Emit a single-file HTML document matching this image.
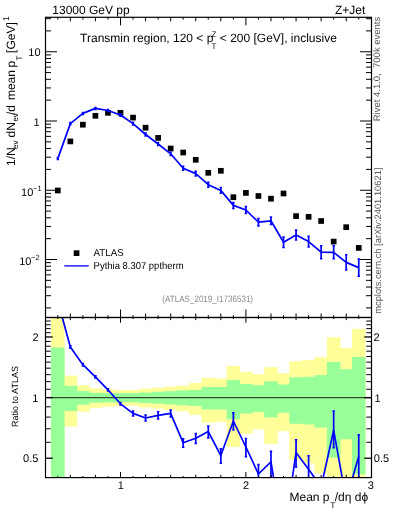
<!DOCTYPE html><html><head><meta charset="utf-8"><style>
html,body{margin:0;padding:0;background:#fff;width:393px;height:512px;overflow:hidden;}
svg{display:block;font-family:"Liberation Sans",sans-serif;will-change:transform;text-rendering:geometricPrecision;}
</style></head><body>
<svg width="393" height="512" viewBox="0 0 393 512">
<defs><clipPath id="cr"><rect x="45.5" y="317.5" width="326.0" height="160.10000000000002"/></clipPath>
<clipPath id="cm"><rect x="45.5" y="17.3" width="326.0" height="300.2"/></clipPath></defs>
<g clip-path="url(#cr)"><rect x="51.03" y="250.00" width="13.54" height="750.00" fill="#ffff99"/><rect x="63.57" y="375.70" width="13.54" height="50.79" fill="#ffff99"/><rect x="76.11" y="385.30" width="13.54" height="26.44" fill="#ffff99"/><rect x="88.65" y="388.30" width="13.54" height="19.59" fill="#ffff99"/><rect x="101.19" y="389.30" width="13.54" height="17.36" fill="#ffff99"/><rect x="113.73" y="390.10" width="13.54" height="15.61" fill="#ffff99"/><rect x="126.27" y="390.10" width="13.54" height="15.61" fill="#ffff99"/><rect x="138.81" y="388.70" width="13.54" height="18.69" fill="#ffff99"/><rect x="151.35" y="387.70" width="13.54" height="20.93" fill="#ffff99"/><rect x="163.89" y="386.70" width="13.54" height="23.21" fill="#ffff99"/><rect x="176.43" y="385.70" width="13.54" height="25.51" fill="#ffff99"/><rect x="188.97" y="383.00" width="13.54" height="31.92" fill="#ffff99"/><rect x="201.51" y="377.90" width="13.54" height="44.84" fill="#ffff99"/><rect x="214.05" y="378.50" width="13.54" height="43.25" fill="#ffff99"/><rect x="226.59" y="365.90" width="13.54" height="81.15" fill="#ffff99"/><rect x="239.13" y="371.80" width="13.54" height="62.04" fill="#ffff99"/><rect x="251.67" y="374.20" width="13.54" height="55.01" fill="#ffff99"/><rect x="264.21" y="367.20" width="13.54" height="76.69" fill="#ffff99"/><rect x="276.75" y="373.20" width="13.54" height="57.89" fill="#ffff99"/><rect x="289.29" y="361.30" width="13.54" height="98.44" fill="#ffff99"/><rect x="301.83" y="360.10" width="13.54" height="103.40" fill="#ffff99"/><rect x="314.37" y="357.20" width="13.54" height="116.37" fill="#ffff99"/><rect x="326.91" y="337.20" width="13.54" height="419.56" fill="#ffff99"/><rect x="339.45" y="348.00" width="13.54" height="172.43" fill="#ffff99"/><rect x="351.99" y="328.90" width="13.54" height="671.10" fill="#ffff99"/><rect x="51.03" y="347.50" width="13.54" height="176.56" fill="#99ff99"/><rect x="63.57" y="385.90" width="13.54" height="25.05" fill="#99ff99"/><rect x="76.11" y="391.00" width="13.54" height="13.66" fill="#99ff99"/><rect x="88.65" y="392.80" width="13.54" height="9.82" fill="#99ff99"/><rect x="101.19" y="393.00" width="13.54" height="9.40" fill="#99ff99"/><rect x="113.73" y="393.10" width="13.54" height="9.19" fill="#99ff99"/><rect x="126.27" y="393.10" width="13.54" height="9.19" fill="#99ff99"/><rect x="138.81" y="392.50" width="13.54" height="10.46" fill="#99ff99"/><rect x="151.35" y="391.80" width="13.54" height="11.94" fill="#99ff99"/><rect x="163.89" y="391.20" width="13.54" height="13.23" fill="#99ff99"/><rect x="176.43" y="390.40" width="13.54" height="14.96" fill="#99ff99"/><rect x="188.97" y="389.90" width="13.54" height="16.05" fill="#99ff99"/><rect x="201.51" y="387.00" width="13.54" height="22.52" fill="#99ff99"/><rect x="214.05" y="387.00" width="13.54" height="22.52" fill="#99ff99"/><rect x="226.59" y="380.10" width="13.54" height="39.12" fill="#99ff99"/><rect x="239.13" y="384.00" width="13.54" height="29.51" fill="#99ff99"/><rect x="251.67" y="385.20" width="13.54" height="26.68" fill="#99ff99"/><rect x="264.21" y="381.30" width="13.54" height="36.10" fill="#99ff99"/><rect x="276.75" y="384.50" width="13.54" height="28.33" fill="#99ff99"/><rect x="289.29" y="377.30" width="13.54" height="46.44" fill="#99ff99"/><rect x="301.83" y="376.90" width="13.54" height="47.51" fill="#99ff99"/><rect x="314.37" y="375.10" width="13.54" height="52.46" fill="#99ff99"/><rect x="326.91" y="362.00" width="13.54" height="95.64" fill="#99ff99"/><rect x="339.45" y="369.20" width="13.54" height="70.11" fill="#99ff99"/><rect x="351.99" y="357.00" width="13.54" height="117.32" fill="#99ff99"/></g>
<line x1="45.5" y1="397.6" x2="371.5" y2="397.6" stroke="#1a1a1a" stroke-opacity="0.8" stroke-width="1.4"/>
<g clip-path="url(#cr)"><polyline points="57.80,301.00 70.34,347.00 82.88,364.70 95.42,376.90 107.96,389.90 120.50,403.80 133.04,413.40 145.58,418.00 158.12,415.30 170.66,413.30 183.20,442.80 195.74,438.20 208.28,431.60 220.82,455.50 233.36,421.00 245.90,447.00 258.44,474.00 270.98,461.80 283.52,538.90 296.06,452.50 308.60,469.30 321.14,486.90 333.68,430.30 346.22,500.00 358.76,456.20" fill="none" stroke="#0000ff" stroke-width="1.7" stroke-linejoin="round"/><line x1="57.80" y1="299.80" x2="57.80" y2="302.20" stroke="#0000ff" stroke-width="1.7"/><line x1="56.60" y1="299.80" x2="59.00" y2="299.80" stroke="#0000ff" stroke-width="1.5"/><line x1="56.60" y1="302.20" x2="59.00" y2="302.20" stroke="#0000ff" stroke-width="1.5"/><line x1="70.34" y1="345.80" x2="70.34" y2="348.20" stroke="#0000ff" stroke-width="1.7"/><line x1="69.14" y1="345.80" x2="71.54" y2="345.80" stroke="#0000ff" stroke-width="1.5"/><line x1="69.14" y1="348.20" x2="71.54" y2="348.20" stroke="#0000ff" stroke-width="1.5"/><line x1="82.88" y1="363.50" x2="82.88" y2="365.90" stroke="#0000ff" stroke-width="1.7"/><line x1="81.68" y1="363.50" x2="84.08" y2="363.50" stroke="#0000ff" stroke-width="1.5"/><line x1="81.68" y1="365.90" x2="84.08" y2="365.90" stroke="#0000ff" stroke-width="1.5"/><line x1="95.42" y1="375.70" x2="95.42" y2="378.10" stroke="#0000ff" stroke-width="1.7"/><line x1="94.22" y1="375.70" x2="96.62" y2="375.70" stroke="#0000ff" stroke-width="1.5"/><line x1="94.22" y1="378.10" x2="96.62" y2="378.10" stroke="#0000ff" stroke-width="1.5"/><line x1="107.96" y1="388.70" x2="107.96" y2="391.10" stroke="#0000ff" stroke-width="1.7"/><line x1="106.76" y1="388.70" x2="109.16" y2="388.70" stroke="#0000ff" stroke-width="1.5"/><line x1="106.76" y1="391.10" x2="109.16" y2="391.10" stroke="#0000ff" stroke-width="1.5"/><line x1="120.50" y1="402.60" x2="120.50" y2="405.00" stroke="#0000ff" stroke-width="1.7"/><line x1="119.30" y1="402.60" x2="121.70" y2="402.60" stroke="#0000ff" stroke-width="1.5"/><line x1="119.30" y1="405.00" x2="121.70" y2="405.00" stroke="#0000ff" stroke-width="1.5"/><line x1="133.04" y1="410.90" x2="133.04" y2="416.00" stroke="#0000ff" stroke-width="1.7"/><line x1="131.84" y1="410.90" x2="134.24" y2="410.90" stroke="#0000ff" stroke-width="1.5"/><line x1="131.84" y1="416.00" x2="134.24" y2="416.00" stroke="#0000ff" stroke-width="1.5"/><line x1="145.58" y1="415.10" x2="145.58" y2="421.10" stroke="#0000ff" stroke-width="1.7"/><line x1="144.38" y1="415.10" x2="146.78" y2="415.10" stroke="#0000ff" stroke-width="1.5"/><line x1="144.38" y1="421.10" x2="146.78" y2="421.10" stroke="#0000ff" stroke-width="1.5"/><line x1="158.12" y1="411.80" x2="158.12" y2="419.00" stroke="#0000ff" stroke-width="1.7"/><line x1="156.92" y1="411.80" x2="159.32" y2="411.80" stroke="#0000ff" stroke-width="1.5"/><line x1="156.92" y1="419.00" x2="159.32" y2="419.00" stroke="#0000ff" stroke-width="1.5"/><line x1="170.66" y1="410.00" x2="170.66" y2="416.90" stroke="#0000ff" stroke-width="1.7"/><line x1="169.46" y1="410.00" x2="171.86" y2="410.00" stroke="#0000ff" stroke-width="1.5"/><line x1="169.46" y1="416.90" x2="171.86" y2="416.90" stroke="#0000ff" stroke-width="1.5"/><line x1="183.20" y1="438.70" x2="183.20" y2="447.20" stroke="#0000ff" stroke-width="1.7"/><line x1="182.00" y1="438.70" x2="184.40" y2="438.70" stroke="#0000ff" stroke-width="1.5"/><line x1="182.00" y1="447.20" x2="184.40" y2="447.20" stroke="#0000ff" stroke-width="1.5"/><line x1="195.74" y1="433.40" x2="195.74" y2="443.50" stroke="#0000ff" stroke-width="1.7"/><line x1="194.54" y1="433.40" x2="196.94" y2="433.40" stroke="#0000ff" stroke-width="1.5"/><line x1="194.54" y1="443.50" x2="196.94" y2="443.50" stroke="#0000ff" stroke-width="1.5"/><line x1="208.28" y1="426.10" x2="208.28" y2="438.00" stroke="#0000ff" stroke-width="1.7"/><line x1="207.08" y1="426.10" x2="209.48" y2="426.10" stroke="#0000ff" stroke-width="1.5"/><line x1="207.08" y1="438.00" x2="209.48" y2="438.00" stroke="#0000ff" stroke-width="1.5"/><line x1="220.82" y1="448.70" x2="220.82" y2="463.30" stroke="#0000ff" stroke-width="1.7"/><line x1="219.62" y1="448.70" x2="222.02" y2="448.70" stroke="#0000ff" stroke-width="1.5"/><line x1="219.62" y1="463.30" x2="222.02" y2="463.30" stroke="#0000ff" stroke-width="1.5"/><line x1="233.36" y1="412.80" x2="233.36" y2="430.00" stroke="#0000ff" stroke-width="1.7"/><line x1="232.16" y1="412.80" x2="234.56" y2="412.80" stroke="#0000ff" stroke-width="1.5"/><line x1="232.16" y1="430.00" x2="234.56" y2="430.00" stroke="#0000ff" stroke-width="1.5"/><line x1="245.90" y1="438.50" x2="245.90" y2="456.80" stroke="#0000ff" stroke-width="1.7"/><line x1="244.70" y1="438.50" x2="247.10" y2="438.50" stroke="#0000ff" stroke-width="1.5"/><line x1="244.70" y1="456.80" x2="247.10" y2="456.80" stroke="#0000ff" stroke-width="1.5"/><line x1="258.44" y1="464.60" x2="258.44" y2="485.00" stroke="#0000ff" stroke-width="1.7"/><line x1="257.24" y1="464.60" x2="259.64" y2="464.60" stroke="#0000ff" stroke-width="1.5"/><line x1="257.24" y1="485.00" x2="259.64" y2="485.00" stroke="#0000ff" stroke-width="1.5"/><line x1="270.98" y1="451.30" x2="270.98" y2="478.80" stroke="#0000ff" stroke-width="1.7"/><line x1="269.78" y1="451.30" x2="272.18" y2="451.30" stroke="#0000ff" stroke-width="1.5"/><line x1="269.78" y1="478.80" x2="272.18" y2="478.80" stroke="#0000ff" stroke-width="1.5"/><line x1="283.52" y1="524.90" x2="283.52" y2="554.90" stroke="#0000ff" stroke-width="1.7"/><line x1="282.32" y1="524.90" x2="284.72" y2="524.90" stroke="#0000ff" stroke-width="1.5"/><line x1="282.32" y1="554.90" x2="284.72" y2="554.90" stroke="#0000ff" stroke-width="1.5"/><line x1="296.06" y1="439.70" x2="296.06" y2="467.10" stroke="#0000ff" stroke-width="1.7"/><line x1="294.86" y1="439.70" x2="297.26" y2="439.70" stroke="#0000ff" stroke-width="1.5"/><line x1="294.86" y1="467.10" x2="297.26" y2="467.10" stroke="#0000ff" stroke-width="1.5"/><line x1="308.60" y1="455.80" x2="308.60" y2="485.30" stroke="#0000ff" stroke-width="1.7"/><line x1="307.40" y1="455.80" x2="309.80" y2="455.80" stroke="#0000ff" stroke-width="1.5"/><line x1="307.40" y1="485.30" x2="309.80" y2="485.30" stroke="#0000ff" stroke-width="1.5"/><line x1="321.14" y1="478.90" x2="321.14" y2="502.90" stroke="#0000ff" stroke-width="1.7"/><line x1="319.94" y1="478.90" x2="322.34" y2="478.90" stroke="#0000ff" stroke-width="1.5"/><line x1="319.94" y1="502.90" x2="322.34" y2="502.90" stroke="#0000ff" stroke-width="1.5"/><line x1="333.68" y1="411.00" x2="333.68" y2="447.80" stroke="#0000ff" stroke-width="1.7"/><line x1="332.48" y1="411.00" x2="334.88" y2="411.00" stroke="#0000ff" stroke-width="1.5"/><line x1="332.48" y1="447.80" x2="334.88" y2="447.80" stroke="#0000ff" stroke-width="1.5"/><line x1="346.22" y1="480.00" x2="346.22" y2="524.00" stroke="#0000ff" stroke-width="1.7"/><line x1="345.02" y1="480.00" x2="347.42" y2="480.00" stroke="#0000ff" stroke-width="1.5"/><line x1="345.02" y1="524.00" x2="347.42" y2="524.00" stroke="#0000ff" stroke-width="1.5"/><line x1="358.76" y1="434.80" x2="358.76" y2="482.20" stroke="#0000ff" stroke-width="1.7"/><line x1="357.56" y1="434.80" x2="359.96" y2="434.80" stroke="#0000ff" stroke-width="1.5"/><line x1="357.56" y1="482.20" x2="359.96" y2="482.20" stroke="#0000ff" stroke-width="1.5"/></g>
<g clip-path="url(#cm)"><rect x="54.95" y="187.65" width="5.7" height="5.7" fill="#000"/><rect x="67.49" y="138.55" width="5.7" height="5.7" fill="#000"/><rect x="80.03" y="121.85" width="5.7" height="5.7" fill="#000"/><rect x="92.57" y="112.95" width="5.7" height="5.7" fill="#000"/><rect x="105.11" y="109.95" width="5.7" height="5.7" fill="#000"/><rect x="117.65" y="109.95" width="5.7" height="5.7" fill="#000"/><rect x="130.19" y="114.75" width="5.7" height="5.7" fill="#000"/><rect x="142.73" y="124.85" width="5.7" height="5.7" fill="#000"/><rect x="155.27" y="135.05" width="5.7" height="5.7" fill="#000"/><rect x="167.81" y="145.65" width="5.7" height="5.7" fill="#000"/><rect x="180.35" y="149.65" width="5.7" height="5.7" fill="#000"/><rect x="192.89" y="156.95" width="5.7" height="5.7" fill="#000"/><rect x="205.43" y="169.95" width="5.7" height="5.7" fill="#000"/><rect x="217.97" y="167.95" width="5.7" height="5.7" fill="#000"/><rect x="230.51" y="194.35" width="5.7" height="5.7" fill="#000"/><rect x="243.05" y="190.05" width="5.7" height="5.7" fill="#000"/><rect x="255.59" y="193.15" width="5.7" height="5.7" fill="#000"/><rect x="268.13" y="195.85" width="5.7" height="5.7" fill="#000"/><rect x="280.67" y="190.65" width="5.7" height="5.7" fill="#000"/><rect x="293.21" y="213.25" width="5.7" height="5.7" fill="#000"/><rect x="305.75" y="213.95" width="5.7" height="5.7" fill="#000"/><rect x="318.29" y="218.15" width="5.7" height="5.7" fill="#000"/><rect x="330.83" y="238.75" width="5.7" height="5.7" fill="#000"/><rect x="343.37" y="224.35" width="5.7" height="5.7" fill="#000"/><rect x="355.91" y="245.05" width="5.7" height="5.7" fill="#000"/><polyline points="57.80,158.60 70.34,123.60 82.88,113.40 95.42,108.40 107.96,110.50 120.50,115.00 133.04,123.60 145.58,134.50 158.12,144.00 170.66,153.80 183.20,168.20 195.74,173.60 208.28,184.70 220.82,190.40 233.36,205.40 245.90,210.00 258.44,222.20 270.98,220.80 283.52,242.30 296.06,235.00 308.60,241.60 321.14,252.20 333.68,252.30 346.22,262.40 358.76,267.60" fill="none" stroke="#0000ff" stroke-width="1.7" stroke-linejoin="round"/><line x1="57.80" y1="157.60" x2="57.80" y2="159.60" stroke="#0000ff" stroke-width="1.7"/><line x1="56.60" y1="157.60" x2="59.00" y2="157.60" stroke="#0000ff" stroke-width="1.5"/><line x1="56.60" y1="159.60" x2="59.00" y2="159.60" stroke="#0000ff" stroke-width="1.5"/><line x1="70.34" y1="122.60" x2="70.34" y2="124.60" stroke="#0000ff" stroke-width="1.7"/><line x1="69.14" y1="122.60" x2="71.54" y2="122.60" stroke="#0000ff" stroke-width="1.5"/><line x1="69.14" y1="124.60" x2="71.54" y2="124.60" stroke="#0000ff" stroke-width="1.5"/><line x1="82.88" y1="112.40" x2="82.88" y2="114.40" stroke="#0000ff" stroke-width="1.7"/><line x1="81.68" y1="112.40" x2="84.08" y2="112.40" stroke="#0000ff" stroke-width="1.5"/><line x1="81.68" y1="114.40" x2="84.08" y2="114.40" stroke="#0000ff" stroke-width="1.5"/><line x1="95.42" y1="107.40" x2="95.42" y2="109.40" stroke="#0000ff" stroke-width="1.7"/><line x1="94.22" y1="107.40" x2="96.62" y2="107.40" stroke="#0000ff" stroke-width="1.5"/><line x1="94.22" y1="109.40" x2="96.62" y2="109.40" stroke="#0000ff" stroke-width="1.5"/><line x1="107.96" y1="109.50" x2="107.96" y2="111.50" stroke="#0000ff" stroke-width="1.7"/><line x1="106.76" y1="109.50" x2="109.16" y2="109.50" stroke="#0000ff" stroke-width="1.5"/><line x1="106.76" y1="111.50" x2="109.16" y2="111.50" stroke="#0000ff" stroke-width="1.5"/><line x1="120.50" y1="113.80" x2="120.50" y2="116.20" stroke="#0000ff" stroke-width="1.7"/><line x1="119.30" y1="113.80" x2="121.70" y2="113.80" stroke="#0000ff" stroke-width="1.5"/><line x1="119.30" y1="116.20" x2="121.70" y2="116.20" stroke="#0000ff" stroke-width="1.5"/><line x1="133.04" y1="122.30" x2="133.04" y2="124.90" stroke="#0000ff" stroke-width="1.7"/><line x1="131.84" y1="122.30" x2="134.24" y2="122.30" stroke="#0000ff" stroke-width="1.5"/><line x1="131.84" y1="124.90" x2="134.24" y2="124.90" stroke="#0000ff" stroke-width="1.5"/><line x1="145.58" y1="133.00" x2="145.58" y2="136.00" stroke="#0000ff" stroke-width="1.7"/><line x1="144.38" y1="133.00" x2="146.78" y2="133.00" stroke="#0000ff" stroke-width="1.5"/><line x1="144.38" y1="136.00" x2="146.78" y2="136.00" stroke="#0000ff" stroke-width="1.5"/><line x1="158.12" y1="142.40" x2="158.12" y2="145.60" stroke="#0000ff" stroke-width="1.7"/><line x1="156.92" y1="142.40" x2="159.32" y2="142.40" stroke="#0000ff" stroke-width="1.5"/><line x1="156.92" y1="145.60" x2="159.32" y2="145.60" stroke="#0000ff" stroke-width="1.5"/><line x1="170.66" y1="152.00" x2="170.66" y2="155.60" stroke="#0000ff" stroke-width="1.7"/><line x1="169.46" y1="152.00" x2="171.86" y2="152.00" stroke="#0000ff" stroke-width="1.5"/><line x1="169.46" y1="155.60" x2="171.86" y2="155.60" stroke="#0000ff" stroke-width="1.5"/><line x1="183.20" y1="166.20" x2="183.20" y2="170.20" stroke="#0000ff" stroke-width="1.7"/><line x1="182.00" y1="166.20" x2="184.40" y2="166.20" stroke="#0000ff" stroke-width="1.5"/><line x1="182.00" y1="170.20" x2="184.40" y2="170.20" stroke="#0000ff" stroke-width="1.5"/><line x1="195.74" y1="171.20" x2="195.74" y2="176.00" stroke="#0000ff" stroke-width="1.7"/><line x1="194.54" y1="171.20" x2="196.94" y2="171.20" stroke="#0000ff" stroke-width="1.5"/><line x1="194.54" y1="176.00" x2="196.94" y2="176.00" stroke="#0000ff" stroke-width="1.5"/><line x1="208.28" y1="182.20" x2="208.28" y2="187.20" stroke="#0000ff" stroke-width="1.7"/><line x1="207.08" y1="182.20" x2="209.48" y2="182.20" stroke="#0000ff" stroke-width="1.5"/><line x1="207.08" y1="187.20" x2="209.48" y2="187.20" stroke="#0000ff" stroke-width="1.5"/><line x1="220.82" y1="187.60" x2="220.82" y2="193.20" stroke="#0000ff" stroke-width="1.7"/><line x1="219.62" y1="187.60" x2="222.02" y2="187.60" stroke="#0000ff" stroke-width="1.5"/><line x1="219.62" y1="193.20" x2="222.02" y2="193.20" stroke="#0000ff" stroke-width="1.5"/><line x1="233.36" y1="202.40" x2="233.36" y2="208.40" stroke="#0000ff" stroke-width="1.7"/><line x1="232.16" y1="202.40" x2="234.56" y2="202.40" stroke="#0000ff" stroke-width="1.5"/><line x1="232.16" y1="208.40" x2="234.56" y2="208.40" stroke="#0000ff" stroke-width="1.5"/><line x1="245.90" y1="206.50" x2="245.90" y2="213.50" stroke="#0000ff" stroke-width="1.7"/><line x1="244.70" y1="206.50" x2="247.10" y2="206.50" stroke="#0000ff" stroke-width="1.5"/><line x1="244.70" y1="213.50" x2="247.10" y2="213.50" stroke="#0000ff" stroke-width="1.5"/><line x1="258.44" y1="218.40" x2="258.44" y2="226.00" stroke="#0000ff" stroke-width="1.7"/><line x1="257.24" y1="218.40" x2="259.64" y2="218.40" stroke="#0000ff" stroke-width="1.5"/><line x1="257.24" y1="226.00" x2="259.64" y2="226.00" stroke="#0000ff" stroke-width="1.5"/><line x1="270.98" y1="217.00" x2="270.98" y2="224.60" stroke="#0000ff" stroke-width="1.7"/><line x1="269.78" y1="217.00" x2="272.18" y2="217.00" stroke="#0000ff" stroke-width="1.5"/><line x1="269.78" y1="224.60" x2="272.18" y2="224.60" stroke="#0000ff" stroke-width="1.5"/><line x1="283.52" y1="237.00" x2="283.52" y2="247.60" stroke="#0000ff" stroke-width="1.7"/><line x1="282.32" y1="237.00" x2="284.72" y2="237.00" stroke="#0000ff" stroke-width="1.5"/><line x1="282.32" y1="247.60" x2="284.72" y2="247.60" stroke="#0000ff" stroke-width="1.5"/><line x1="296.06" y1="230.00" x2="296.06" y2="240.00" stroke="#0000ff" stroke-width="1.7"/><line x1="294.86" y1="230.00" x2="297.26" y2="230.00" stroke="#0000ff" stroke-width="1.5"/><line x1="294.86" y1="240.00" x2="297.26" y2="240.00" stroke="#0000ff" stroke-width="1.5"/><line x1="308.60" y1="236.30" x2="308.60" y2="246.90" stroke="#0000ff" stroke-width="1.7"/><line x1="307.40" y1="236.30" x2="309.80" y2="236.30" stroke="#0000ff" stroke-width="1.5"/><line x1="307.40" y1="246.90" x2="309.80" y2="246.90" stroke="#0000ff" stroke-width="1.5"/><line x1="321.14" y1="245.70" x2="321.14" y2="258.70" stroke="#0000ff" stroke-width="1.7"/><line x1="319.94" y1="245.70" x2="322.34" y2="245.70" stroke="#0000ff" stroke-width="1.5"/><line x1="319.94" y1="258.70" x2="322.34" y2="258.70" stroke="#0000ff" stroke-width="1.5"/><line x1="333.68" y1="245.80" x2="333.68" y2="258.80" stroke="#0000ff" stroke-width="1.7"/><line x1="332.48" y1="245.80" x2="334.88" y2="245.80" stroke="#0000ff" stroke-width="1.5"/><line x1="332.48" y1="258.80" x2="334.88" y2="258.80" stroke="#0000ff" stroke-width="1.5"/><line x1="346.22" y1="254.80" x2="346.22" y2="270.00" stroke="#0000ff" stroke-width="1.7"/><line x1="345.02" y1="254.80" x2="347.42" y2="254.80" stroke="#0000ff" stroke-width="1.5"/><line x1="345.02" y1="270.00" x2="347.42" y2="270.00" stroke="#0000ff" stroke-width="1.5"/><line x1="358.76" y1="258.90" x2="358.76" y2="276.30" stroke="#0000ff" stroke-width="1.7"/><line x1="357.56" y1="258.90" x2="359.96" y2="258.90" stroke="#0000ff" stroke-width="1.5"/><line x1="357.56" y1="276.30" x2="359.96" y2="276.30" stroke="#0000ff" stroke-width="1.5"/></g>
<g><line x1="45.50" y1="307.90" x2="51.00" y2="307.90" stroke="#000" stroke-width="1.0"/><line x1="371.50" y1="307.90" x2="366.00" y2="307.90" stroke="#000" stroke-width="1.0"/><line x1="45.50" y1="295.71" x2="51.00" y2="295.71" stroke="#000" stroke-width="1.0"/><line x1="371.50" y1="295.71" x2="366.00" y2="295.71" stroke="#000" stroke-width="1.0"/><line x1="45.50" y1="287.06" x2="51.00" y2="287.06" stroke="#000" stroke-width="1.0"/><line x1="371.50" y1="287.06" x2="366.00" y2="287.06" stroke="#000" stroke-width="1.0"/><line x1="45.50" y1="280.35" x2="51.00" y2="280.35" stroke="#000" stroke-width="1.0"/><line x1="371.50" y1="280.35" x2="366.00" y2="280.35" stroke="#000" stroke-width="1.0"/><line x1="45.50" y1="274.86" x2="51.00" y2="274.86" stroke="#000" stroke-width="1.0"/><line x1="371.50" y1="274.86" x2="366.00" y2="274.86" stroke="#000" stroke-width="1.0"/><line x1="45.50" y1="270.23" x2="51.00" y2="270.23" stroke="#000" stroke-width="1.0"/><line x1="371.50" y1="270.23" x2="366.00" y2="270.23" stroke="#000" stroke-width="1.0"/><line x1="45.50" y1="266.21" x2="51.00" y2="266.21" stroke="#000" stroke-width="1.0"/><line x1="371.50" y1="266.21" x2="366.00" y2="266.21" stroke="#000" stroke-width="1.0"/><line x1="45.50" y1="262.67" x2="51.00" y2="262.67" stroke="#000" stroke-width="1.0"/><line x1="371.50" y1="262.67" x2="366.00" y2="262.67" stroke="#000" stroke-width="1.0"/><line x1="45.50" y1="259.50" x2="57.00" y2="259.50" stroke="#000" stroke-width="1.0"/><line x1="371.50" y1="259.50" x2="360.00" y2="259.50" stroke="#000" stroke-width="1.0"/><line x1="45.50" y1="238.65" x2="51.00" y2="238.65" stroke="#000" stroke-width="1.0"/><line x1="371.50" y1="238.65" x2="366.00" y2="238.65" stroke="#000" stroke-width="1.0"/><line x1="45.50" y1="226.46" x2="51.00" y2="226.46" stroke="#000" stroke-width="1.0"/><line x1="371.50" y1="226.46" x2="366.00" y2="226.46" stroke="#000" stroke-width="1.0"/><line x1="45.50" y1="217.81" x2="51.00" y2="217.81" stroke="#000" stroke-width="1.0"/><line x1="371.50" y1="217.81" x2="366.00" y2="217.81" stroke="#000" stroke-width="1.0"/><line x1="45.50" y1="211.10" x2="51.00" y2="211.10" stroke="#000" stroke-width="1.0"/><line x1="371.50" y1="211.10" x2="366.00" y2="211.10" stroke="#000" stroke-width="1.0"/><line x1="45.50" y1="205.61" x2="51.00" y2="205.61" stroke="#000" stroke-width="1.0"/><line x1="371.50" y1="205.61" x2="366.00" y2="205.61" stroke="#000" stroke-width="1.0"/><line x1="45.50" y1="200.98" x2="51.00" y2="200.98" stroke="#000" stroke-width="1.0"/><line x1="371.50" y1="200.98" x2="366.00" y2="200.98" stroke="#000" stroke-width="1.0"/><line x1="45.50" y1="196.96" x2="51.00" y2="196.96" stroke="#000" stroke-width="1.0"/><line x1="371.50" y1="196.96" x2="366.00" y2="196.96" stroke="#000" stroke-width="1.0"/><line x1="45.50" y1="193.42" x2="51.00" y2="193.42" stroke="#000" stroke-width="1.0"/><line x1="371.50" y1="193.42" x2="366.00" y2="193.42" stroke="#000" stroke-width="1.0"/><line x1="45.50" y1="190.25" x2="57.00" y2="190.25" stroke="#000" stroke-width="1.0"/><line x1="371.50" y1="190.25" x2="360.00" y2="190.25" stroke="#000" stroke-width="1.0"/><line x1="45.50" y1="169.40" x2="51.00" y2="169.40" stroke="#000" stroke-width="1.0"/><line x1="371.50" y1="169.40" x2="366.00" y2="169.40" stroke="#000" stroke-width="1.0"/><line x1="45.50" y1="157.21" x2="51.00" y2="157.21" stroke="#000" stroke-width="1.0"/><line x1="371.50" y1="157.21" x2="366.00" y2="157.21" stroke="#000" stroke-width="1.0"/><line x1="45.50" y1="148.56" x2="51.00" y2="148.56" stroke="#000" stroke-width="1.0"/><line x1="371.50" y1="148.56" x2="366.00" y2="148.56" stroke="#000" stroke-width="1.0"/><line x1="45.50" y1="141.85" x2="51.00" y2="141.85" stroke="#000" stroke-width="1.0"/><line x1="371.50" y1="141.85" x2="366.00" y2="141.85" stroke="#000" stroke-width="1.0"/><line x1="45.50" y1="136.36" x2="51.00" y2="136.36" stroke="#000" stroke-width="1.0"/><line x1="371.50" y1="136.36" x2="366.00" y2="136.36" stroke="#000" stroke-width="1.0"/><line x1="45.50" y1="131.73" x2="51.00" y2="131.73" stroke="#000" stroke-width="1.0"/><line x1="371.50" y1="131.73" x2="366.00" y2="131.73" stroke="#000" stroke-width="1.0"/><line x1="45.50" y1="127.71" x2="51.00" y2="127.71" stroke="#000" stroke-width="1.0"/><line x1="371.50" y1="127.71" x2="366.00" y2="127.71" stroke="#000" stroke-width="1.0"/><line x1="45.50" y1="124.17" x2="51.00" y2="124.17" stroke="#000" stroke-width="1.0"/><line x1="371.50" y1="124.17" x2="366.00" y2="124.17" stroke="#000" stroke-width="1.0"/><line x1="45.50" y1="121.00" x2="57.00" y2="121.00" stroke="#000" stroke-width="1.0"/><line x1="371.50" y1="121.00" x2="360.00" y2="121.00" stroke="#000" stroke-width="1.0"/><line x1="45.50" y1="100.15" x2="51.00" y2="100.15" stroke="#000" stroke-width="1.0"/><line x1="371.50" y1="100.15" x2="366.00" y2="100.15" stroke="#000" stroke-width="1.0"/><line x1="45.50" y1="87.96" x2="51.00" y2="87.96" stroke="#000" stroke-width="1.0"/><line x1="371.50" y1="87.96" x2="366.00" y2="87.96" stroke="#000" stroke-width="1.0"/><line x1="45.50" y1="79.31" x2="51.00" y2="79.31" stroke="#000" stroke-width="1.0"/><line x1="371.50" y1="79.31" x2="366.00" y2="79.31" stroke="#000" stroke-width="1.0"/><line x1="45.50" y1="72.60" x2="51.00" y2="72.60" stroke="#000" stroke-width="1.0"/><line x1="371.50" y1="72.60" x2="366.00" y2="72.60" stroke="#000" stroke-width="1.0"/><line x1="45.50" y1="67.11" x2="51.00" y2="67.11" stroke="#000" stroke-width="1.0"/><line x1="371.50" y1="67.11" x2="366.00" y2="67.11" stroke="#000" stroke-width="1.0"/><line x1="45.50" y1="62.48" x2="51.00" y2="62.48" stroke="#000" stroke-width="1.0"/><line x1="371.50" y1="62.48" x2="366.00" y2="62.48" stroke="#000" stroke-width="1.0"/><line x1="45.50" y1="58.46" x2="51.00" y2="58.46" stroke="#000" stroke-width="1.0"/><line x1="371.50" y1="58.46" x2="366.00" y2="58.46" stroke="#000" stroke-width="1.0"/><line x1="45.50" y1="54.92" x2="51.00" y2="54.92" stroke="#000" stroke-width="1.0"/><line x1="371.50" y1="54.92" x2="366.00" y2="54.92" stroke="#000" stroke-width="1.0"/><line x1="45.50" y1="51.75" x2="57.00" y2="51.75" stroke="#000" stroke-width="1.0"/><line x1="371.50" y1="51.75" x2="360.00" y2="51.75" stroke="#000" stroke-width="1.0"/><line x1="45.50" y1="30.90" x2="51.00" y2="30.90" stroke="#000" stroke-width="1.0"/><line x1="371.50" y1="30.90" x2="366.00" y2="30.90" stroke="#000" stroke-width="1.0"/><line x1="45.50" y1="18.71" x2="51.00" y2="18.71" stroke="#000" stroke-width="1.0"/><line x1="371.50" y1="18.71" x2="366.00" y2="18.71" stroke="#000" stroke-width="1.0"/><line x1="45.50" y1="458.23" x2="52.70" y2="458.23" stroke="#000" stroke-width="1.3"/><line x1="371.50" y1="458.23" x2="364.30" y2="458.23" stroke="#000" stroke-width="1.3"/><line x1="45.50" y1="442.28" x2="50.70" y2="442.28" stroke="#000" stroke-width="1.0"/><line x1="371.50" y1="442.28" x2="366.30" y2="442.28" stroke="#000" stroke-width="1.0"/><line x1="45.50" y1="428.80" x2="50.70" y2="428.80" stroke="#000" stroke-width="1.0"/><line x1="371.50" y1="428.80" x2="366.30" y2="428.80" stroke="#000" stroke-width="1.0"/><line x1="45.50" y1="417.12" x2="50.70" y2="417.12" stroke="#000" stroke-width="1.0"/><line x1="371.50" y1="417.12" x2="366.30" y2="417.12" stroke="#000" stroke-width="1.0"/><line x1="45.50" y1="406.82" x2="50.70" y2="406.82" stroke="#000" stroke-width="1.0"/><line x1="371.50" y1="406.82" x2="366.30" y2="406.82" stroke="#000" stroke-width="1.0"/><line x1="45.50" y1="397.60" x2="52.70" y2="397.60" stroke="#000" stroke-width="1.3"/><line x1="371.50" y1="397.60" x2="364.30" y2="397.60" stroke="#000" stroke-width="1.3"/><line x1="45.50" y1="389.26" x2="50.70" y2="389.26" stroke="#000" stroke-width="1.0"/><line x1="371.50" y1="389.26" x2="366.30" y2="389.26" stroke="#000" stroke-width="1.0"/><line x1="45.50" y1="381.65" x2="50.70" y2="381.65" stroke="#000" stroke-width="1.0"/><line x1="371.50" y1="381.65" x2="366.30" y2="381.65" stroke="#000" stroke-width="1.0"/><line x1="45.50" y1="374.65" x2="50.70" y2="374.65" stroke="#000" stroke-width="1.0"/><line x1="371.50" y1="374.65" x2="366.30" y2="374.65" stroke="#000" stroke-width="1.0"/><line x1="45.50" y1="368.17" x2="50.70" y2="368.17" stroke="#000" stroke-width="1.0"/><line x1="371.50" y1="368.17" x2="366.30" y2="368.17" stroke="#000" stroke-width="1.0"/><line x1="45.50" y1="362.14" x2="50.70" y2="362.14" stroke="#000" stroke-width="1.0"/><line x1="371.50" y1="362.14" x2="366.30" y2="362.14" stroke="#000" stroke-width="1.0"/><line x1="45.50" y1="356.49" x2="50.70" y2="356.49" stroke="#000" stroke-width="1.0"/><line x1="371.50" y1="356.49" x2="366.30" y2="356.49" stroke="#000" stroke-width="1.0"/><line x1="45.50" y1="351.19" x2="50.70" y2="351.19" stroke="#000" stroke-width="1.0"/><line x1="371.50" y1="351.19" x2="366.30" y2="351.19" stroke="#000" stroke-width="1.0"/><line x1="45.50" y1="346.19" x2="50.70" y2="346.19" stroke="#000" stroke-width="1.0"/><line x1="371.50" y1="346.19" x2="366.30" y2="346.19" stroke="#000" stroke-width="1.0"/><line x1="45.50" y1="341.46" x2="50.70" y2="341.46" stroke="#000" stroke-width="1.0"/><line x1="371.50" y1="341.46" x2="366.30" y2="341.46" stroke="#000" stroke-width="1.0"/><line x1="45.50" y1="336.97" x2="52.70" y2="336.97" stroke="#000" stroke-width="1.3"/><line x1="371.50" y1="336.97" x2="364.30" y2="336.97" stroke="#000" stroke-width="1.3"/><line x1="45.50" y1="332.71" x2="50.70" y2="332.71" stroke="#000" stroke-width="1.0"/><line x1="371.50" y1="332.71" x2="366.30" y2="332.71" stroke="#000" stroke-width="1.0"/><line x1="45.50" y1="328.64" x2="50.70" y2="328.64" stroke="#000" stroke-width="1.0"/><line x1="371.50" y1="328.64" x2="366.30" y2="328.64" stroke="#000" stroke-width="1.0"/><line x1="45.50" y1="324.75" x2="50.70" y2="324.75" stroke="#000" stroke-width="1.0"/><line x1="371.50" y1="324.75" x2="366.30" y2="324.75" stroke="#000" stroke-width="1.0"/><line x1="45.50" y1="321.03" x2="50.70" y2="321.03" stroke="#000" stroke-width="1.0"/><line x1="371.50" y1="321.03" x2="366.30" y2="321.03" stroke="#000" stroke-width="1.0"/><line x1="57.80" y1="17.30" x2="57.80" y2="19.60" stroke="#000" stroke-width="1.0"/><line x1="57.80" y1="317.50" x2="57.80" y2="315.20" stroke="#000" stroke-width="1.0"/><line x1="57.80" y1="317.50" x2="57.80" y2="319.00" stroke="#000" stroke-width="1.0"/><line x1="57.80" y1="477.60" x2="57.80" y2="475.99" stroke="#000" stroke-width="1.0"/><line x1="70.34" y1="17.30" x2="70.34" y2="21.30" stroke="#000" stroke-width="1.0"/><line x1="70.34" y1="317.50" x2="70.34" y2="313.50" stroke="#000" stroke-width="1.0"/><line x1="70.34" y1="317.50" x2="70.34" y2="320.10" stroke="#000" stroke-width="1.0"/><line x1="70.34" y1="477.60" x2="70.34" y2="474.80" stroke="#000" stroke-width="1.0"/><line x1="82.88" y1="17.30" x2="82.88" y2="19.60" stroke="#000" stroke-width="1.0"/><line x1="82.88" y1="317.50" x2="82.88" y2="315.20" stroke="#000" stroke-width="1.0"/><line x1="82.88" y1="317.50" x2="82.88" y2="319.00" stroke="#000" stroke-width="1.0"/><line x1="82.88" y1="477.60" x2="82.88" y2="475.99" stroke="#000" stroke-width="1.0"/><line x1="95.42" y1="17.30" x2="95.42" y2="21.30" stroke="#000" stroke-width="1.0"/><line x1="95.42" y1="317.50" x2="95.42" y2="313.50" stroke="#000" stroke-width="1.0"/><line x1="95.42" y1="317.50" x2="95.42" y2="320.10" stroke="#000" stroke-width="1.0"/><line x1="95.42" y1="477.60" x2="95.42" y2="474.80" stroke="#000" stroke-width="1.0"/><line x1="107.96" y1="17.30" x2="107.96" y2="19.60" stroke="#000" stroke-width="1.0"/><line x1="107.96" y1="317.50" x2="107.96" y2="315.20" stroke="#000" stroke-width="1.0"/><line x1="107.96" y1="317.50" x2="107.96" y2="319.00" stroke="#000" stroke-width="1.0"/><line x1="107.96" y1="477.60" x2="107.96" y2="475.99" stroke="#000" stroke-width="1.0"/><line x1="120.50" y1="17.30" x2="120.50" y2="25.30" stroke="#000" stroke-width="1.0"/><line x1="120.50" y1="317.50" x2="120.50" y2="309.50" stroke="#000" stroke-width="1.0"/><line x1="120.50" y1="317.50" x2="120.50" y2="322.70" stroke="#000" stroke-width="1.0"/><line x1="120.50" y1="477.60" x2="120.50" y2="472.00" stroke="#000" stroke-width="1.0"/><line x1="133.04" y1="17.30" x2="133.04" y2="19.60" stroke="#000" stroke-width="1.0"/><line x1="133.04" y1="317.50" x2="133.04" y2="315.20" stroke="#000" stroke-width="1.0"/><line x1="133.04" y1="317.50" x2="133.04" y2="319.00" stroke="#000" stroke-width="1.0"/><line x1="133.04" y1="477.60" x2="133.04" y2="475.99" stroke="#000" stroke-width="1.0"/><line x1="145.58" y1="17.30" x2="145.58" y2="21.30" stroke="#000" stroke-width="1.0"/><line x1="145.58" y1="317.50" x2="145.58" y2="313.50" stroke="#000" stroke-width="1.0"/><line x1="145.58" y1="317.50" x2="145.58" y2="320.10" stroke="#000" stroke-width="1.0"/><line x1="145.58" y1="477.60" x2="145.58" y2="474.80" stroke="#000" stroke-width="1.0"/><line x1="158.12" y1="17.30" x2="158.12" y2="19.60" stroke="#000" stroke-width="1.0"/><line x1="158.12" y1="317.50" x2="158.12" y2="315.20" stroke="#000" stroke-width="1.0"/><line x1="158.12" y1="317.50" x2="158.12" y2="319.00" stroke="#000" stroke-width="1.0"/><line x1="158.12" y1="477.60" x2="158.12" y2="475.99" stroke="#000" stroke-width="1.0"/><line x1="170.66" y1="17.30" x2="170.66" y2="21.30" stroke="#000" stroke-width="1.0"/><line x1="170.66" y1="317.50" x2="170.66" y2="313.50" stroke="#000" stroke-width="1.0"/><line x1="170.66" y1="317.50" x2="170.66" y2="320.10" stroke="#000" stroke-width="1.0"/><line x1="170.66" y1="477.60" x2="170.66" y2="474.80" stroke="#000" stroke-width="1.0"/><line x1="183.20" y1="17.30" x2="183.20" y2="19.60" stroke="#000" stroke-width="1.0"/><line x1="183.20" y1="317.50" x2="183.20" y2="315.20" stroke="#000" stroke-width="1.0"/><line x1="183.20" y1="317.50" x2="183.20" y2="319.00" stroke="#000" stroke-width="1.0"/><line x1="183.20" y1="477.60" x2="183.20" y2="475.99" stroke="#000" stroke-width="1.0"/><line x1="195.74" y1="17.30" x2="195.74" y2="21.30" stroke="#000" stroke-width="1.0"/><line x1="195.74" y1="317.50" x2="195.74" y2="313.50" stroke="#000" stroke-width="1.0"/><line x1="195.74" y1="317.50" x2="195.74" y2="320.10" stroke="#000" stroke-width="1.0"/><line x1="195.74" y1="477.60" x2="195.74" y2="474.80" stroke="#000" stroke-width="1.0"/><line x1="208.28" y1="17.30" x2="208.28" y2="19.60" stroke="#000" stroke-width="1.0"/><line x1="208.28" y1="317.50" x2="208.28" y2="315.20" stroke="#000" stroke-width="1.0"/><line x1="208.28" y1="317.50" x2="208.28" y2="319.00" stroke="#000" stroke-width="1.0"/><line x1="208.28" y1="477.60" x2="208.28" y2="475.99" stroke="#000" stroke-width="1.0"/><line x1="220.82" y1="17.30" x2="220.82" y2="21.30" stroke="#000" stroke-width="1.0"/><line x1="220.82" y1="317.50" x2="220.82" y2="313.50" stroke="#000" stroke-width="1.0"/><line x1="220.82" y1="317.50" x2="220.82" y2="320.10" stroke="#000" stroke-width="1.0"/><line x1="220.82" y1="477.60" x2="220.82" y2="474.80" stroke="#000" stroke-width="1.0"/><line x1="233.36" y1="17.30" x2="233.36" y2="19.60" stroke="#000" stroke-width="1.0"/><line x1="233.36" y1="317.50" x2="233.36" y2="315.20" stroke="#000" stroke-width="1.0"/><line x1="233.36" y1="317.50" x2="233.36" y2="319.00" stroke="#000" stroke-width="1.0"/><line x1="233.36" y1="477.60" x2="233.36" y2="475.99" stroke="#000" stroke-width="1.0"/><line x1="245.90" y1="17.30" x2="245.90" y2="25.30" stroke="#000" stroke-width="1.0"/><line x1="245.90" y1="317.50" x2="245.90" y2="309.50" stroke="#000" stroke-width="1.0"/><line x1="245.90" y1="317.50" x2="245.90" y2="322.70" stroke="#000" stroke-width="1.0"/><line x1="245.90" y1="477.60" x2="245.90" y2="472.00" stroke="#000" stroke-width="1.0"/><line x1="258.44" y1="17.30" x2="258.44" y2="19.60" stroke="#000" stroke-width="1.0"/><line x1="258.44" y1="317.50" x2="258.44" y2="315.20" stroke="#000" stroke-width="1.0"/><line x1="258.44" y1="317.50" x2="258.44" y2="319.00" stroke="#000" stroke-width="1.0"/><line x1="258.44" y1="477.60" x2="258.44" y2="475.99" stroke="#000" stroke-width="1.0"/><line x1="270.98" y1="17.30" x2="270.98" y2="21.30" stroke="#000" stroke-width="1.0"/><line x1="270.98" y1="317.50" x2="270.98" y2="313.50" stroke="#000" stroke-width="1.0"/><line x1="270.98" y1="317.50" x2="270.98" y2="320.10" stroke="#000" stroke-width="1.0"/><line x1="270.98" y1="477.60" x2="270.98" y2="474.80" stroke="#000" stroke-width="1.0"/><line x1="283.52" y1="17.30" x2="283.52" y2="19.60" stroke="#000" stroke-width="1.0"/><line x1="283.52" y1="317.50" x2="283.52" y2="315.20" stroke="#000" stroke-width="1.0"/><line x1="283.52" y1="317.50" x2="283.52" y2="319.00" stroke="#000" stroke-width="1.0"/><line x1="283.52" y1="477.60" x2="283.52" y2="475.99" stroke="#000" stroke-width="1.0"/><line x1="296.06" y1="17.30" x2="296.06" y2="21.30" stroke="#000" stroke-width="1.0"/><line x1="296.06" y1="317.50" x2="296.06" y2="313.50" stroke="#000" stroke-width="1.0"/><line x1="296.06" y1="317.50" x2="296.06" y2="320.10" stroke="#000" stroke-width="1.0"/><line x1="296.06" y1="477.60" x2="296.06" y2="474.80" stroke="#000" stroke-width="1.0"/><line x1="308.60" y1="17.30" x2="308.60" y2="19.60" stroke="#000" stroke-width="1.0"/><line x1="308.60" y1="317.50" x2="308.60" y2="315.20" stroke="#000" stroke-width="1.0"/><line x1="308.60" y1="317.50" x2="308.60" y2="319.00" stroke="#000" stroke-width="1.0"/><line x1="308.60" y1="477.60" x2="308.60" y2="475.99" stroke="#000" stroke-width="1.0"/><line x1="321.14" y1="17.30" x2="321.14" y2="21.30" stroke="#000" stroke-width="1.0"/><line x1="321.14" y1="317.50" x2="321.14" y2="313.50" stroke="#000" stroke-width="1.0"/><line x1="321.14" y1="317.50" x2="321.14" y2="320.10" stroke="#000" stroke-width="1.0"/><line x1="321.14" y1="477.60" x2="321.14" y2="474.80" stroke="#000" stroke-width="1.0"/><line x1="333.68" y1="17.30" x2="333.68" y2="19.60" stroke="#000" stroke-width="1.0"/><line x1="333.68" y1="317.50" x2="333.68" y2="315.20" stroke="#000" stroke-width="1.0"/><line x1="333.68" y1="317.50" x2="333.68" y2="319.00" stroke="#000" stroke-width="1.0"/><line x1="333.68" y1="477.60" x2="333.68" y2="475.99" stroke="#000" stroke-width="1.0"/><line x1="346.22" y1="17.30" x2="346.22" y2="21.30" stroke="#000" stroke-width="1.0"/><line x1="346.22" y1="317.50" x2="346.22" y2="313.50" stroke="#000" stroke-width="1.0"/><line x1="346.22" y1="317.50" x2="346.22" y2="320.10" stroke="#000" stroke-width="1.0"/><line x1="346.22" y1="477.60" x2="346.22" y2="474.80" stroke="#000" stroke-width="1.0"/><line x1="358.76" y1="17.30" x2="358.76" y2="19.60" stroke="#000" stroke-width="1.0"/><line x1="358.76" y1="317.50" x2="358.76" y2="315.20" stroke="#000" stroke-width="1.0"/><line x1="358.76" y1="317.50" x2="358.76" y2="319.00" stroke="#000" stroke-width="1.0"/><line x1="358.76" y1="477.60" x2="358.76" y2="475.99" stroke="#000" stroke-width="1.0"/></g>
<rect x="45.5" y="17.3" width="326.0" height="300.2" fill="none" stroke="#000" stroke-width="1.2"/>
<rect x="45.5" y="317.5" width="326.0" height="160.10000000000002" fill="none" stroke="#000" stroke-width="1.2"/>
<g fill="#000" font-size="12">
<text x="52.3" y="13.7">13000 GeV pp</text>
<text x="365.4" y="13.7" text-anchor="end">Z+Jet</text>
<text x="208.5" y="41.7" text-anchor="middle">Transmin region, 120 &lt; p<tspan font-size="8" dx="-1.8" dy="-5">Z</tspan><tspan font-size="8" dx="-4.9" dy="12">T</tspan><tspan dy="-7"> &lt; 200 [GeV], inclusive</tspan></text>
</g>
<g fill="#000" font-size="11">
<text x="40.6" y="56.2" text-anchor="end">10</text>
<text x="39.6" y="126.1" text-anchor="end">1</text>
<text x="33.3" y="196.0" text-anchor="end">10</text><text x="33.0" y="191.0" font-size="7.5">−1</text>
<text x="31.4" y="265.3" text-anchor="end">10</text><text x="31.0" y="259.9" font-size="7.5">−2</text>
<text x="38.6" y="340.9" text-anchor="end">2</text>
<text x="38.4" y="402.2" text-anchor="end">1</text>
<text x="38.4" y="462.2" text-anchor="end">0.5</text>
<text x="373.4" y="341.0">2</text>
<text x="374.4" y="402.2">1</text>
<text x="373.8" y="462.0">0.5</text>
<text x="120.8" y="488.8" text-anchor="middle">1</text>
<text x="246.0" y="488.7" text-anchor="middle">2</text>
<text x="370.9" y="488.6" text-anchor="middle">3</text>
</g>
<text x="289.5" y="501.2" font-size="12">Mean p<tspan font-size="8.5" dx="0.7" dy="6.6">T</tspan><tspan dx="-0.7" dy="-6.6">/dη dϕ</tspan></text>
<g transform="translate(15,166.4) rotate(-90)" font-size="12"><text x="0.4" y="0">1/N</text><text x="17.4" y="3" font-size="8">ev</text><text x="29.0" y="0">dN</text><text x="44.8" y="3" font-size="8">ev</text><text x="51.4" y="0">/d</text><text x="66.3" y="0">mean</text><text x="99.0" y="0">p</text><text x="105.8" y="7.1" font-size="8">T</text><text x="113.5" y="0">[GeV]</text><text x="145.5" y="-6.0" font-size="8.5">1</text></g>
<text transform="translate(17.8,396.5) rotate(-90)" font-size="9" text-anchor="middle">Ratio to ATLAS</text>
<rect x="73.7" y="250.3" width="5.7" height="5.7" fill="#000"/>
<line x1="64.3" y1="265.9" x2="88.7" y2="265.9" stroke="#0000ff" stroke-width="1.3"/>
<text x="93.6" y="256.4" font-size="10" textLength="30.1" lengthAdjust="spacingAndGlyphs">ATLAS</text>
<text x="93.6" y="269.3" font-size="10" textLength="90.0" lengthAdjust="spacingAndGlyphs">Pythia 8.307 pptherm</text>
<text x="207.7" y="302.1" font-size="9.2" fill="#8a8a8a" text-anchor="middle" textLength="90.7" lengthAdjust="spacingAndGlyphs">(ATLAS_2019_I1736531)</text>
<text transform="translate(379.8,121.3) rotate(-90)" font-size="9.5" fill="#555" xml:space="preserve">Rivet 4.1.0,  700k events</text>
<text transform="translate(380.8,313.8) rotate(-90)" font-size="9.33" fill="#555">mcplots.cern.ch [arXiv:2401.10621]</text>
</svg></body></html>
